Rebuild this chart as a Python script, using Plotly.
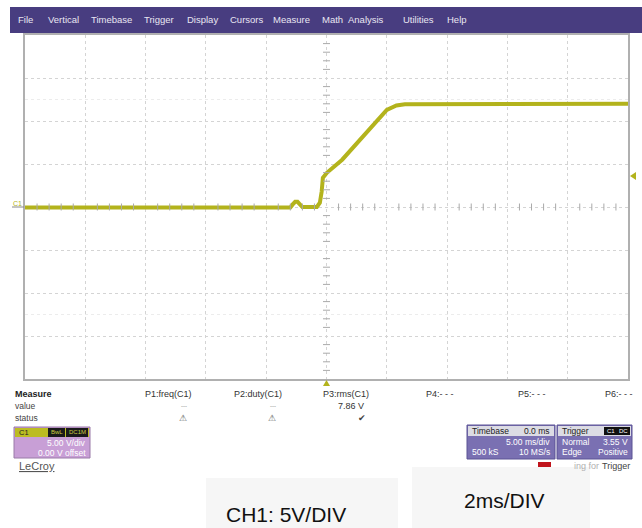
import plotly.graph_objects as go

# C1 waveform (timebase 5 ms/div, 5 V/div, trigger at t=0)
time_ms = [-25, -3.0, -2.8, -2.6, -2.4, -2.2, -2.0, -0.8, -0.55, -0.4, -0.3,
           0.05, 1.3, 5.0, 5.8, 6.5, 25]
volts = [-0.05, -0.05, 0.3, 0.6, 0.6, 0.3, 0.0, 0.0, 0.5, 1.8, 3.4,
         4.0, 5.5, 11.3, 11.8, 11.95, 12.0]

menu_items = ["File", "Vertical", "Timebase", "Trigger", "Display", "Cursors",
              "Measure", "Math", "Analysis", "Utilities", "Help"]
menu_x = [16, 46, 89, 142, 185, 228, 271, 320, 346, 401, 445]

measure_names = ["P1:freq(C1)", "P2:duty(C1)", "P3:rms(C1)", "P4:- - -", "P5:- - -", "P6:- - -"]
measure_x = [143, 232, 321, 424, 516, 603]
measure_values = ["---", "---", "7.86 V"]
trigger_level_v = 3.55

TRACE = "#b3b31c"
FONT = "Liberation Sans, Arial, sans-serif"
W, H = 642, 528
GL, GR, GT, GB = 25, 628, 35, 379


def px(x):
    return (x - GL) / (GR - GL)


def py(y):
    return (GB - y) / (GB - GT)


def text(fig, x, y, s, size=8, color="#333", anchor="left", **kw):
    fig.add_annotation(x=px(x), y=py(y), xref="paper", yref="paper", text=s,
                       showarrow=False, xanchor=anchor, yanchor="middle",
                       font={"family": FONT, "size": size, "color": color}, **kw)


def rect(fig, x0, y0, x1, y1, fill, line=None):
    fig.add_shape(type="rect", xref="paper", yref="paper",
                  x0=px(x0), x1=px(x1), y0=py(y1), y1=py(y0),
                  fillcolor=fill, line={"width": 0 if line is None else 1, "color": line or fill},
                  layer="above")


fig = go.Figure()

fig.add_trace(go.Scatter(x=time_ms, y=volts, mode="lines",
                         line={"color": TRACE, "width": 4}, hoverinfo="skip"))

# small ticks along the centre cross
fig.add_trace(go.Scatter(x=[t for t in range(-25, 26) if t % 5], y=[0] * 40, mode="markers",
                         marker={"symbol": "line-ns", "size": 5, "line": {"color": "#aaa", "width": 1}},
                         hoverinfo="skip"))
fig.add_trace(go.Scatter(x=[0] * 32, y=[v for v in range(-20, 21) if v % 5], mode="markers",
                         marker={"symbol": "line-ew", "size": 5, "line": {"color": "#aaa", "width": 1}},
                         hoverinfo="skip"))

fig.update_layout(
    width=W, height=H, autosize=False,
    margin={"l": GL, "r": W - GR, "t": GT, "b": H - GB, "pad": 0},
    paper_bgcolor="white", plot_bgcolor="white", showlegend=False,
    xaxis={"range": [-25, 25], "dtick": 5, "tick0": 0, "showgrid": True,
           "gridcolor": "#d4d4d4", "griddash": "dot", "zeroline": False,
           "showticklabels": False, "ticks": "", "showline": True,
           "linecolor": "#b0b0b0", "linewidth": 1.5, "mirror": True, "fixedrange": True},
    yaxis={"range": [-20, 20], "dtick": 5, "tick0": 0, "showgrid": True,
           "gridcolor": "#d4d4d4", "griddash": "dot", "zeroline": False,
           "showticklabels": False, "ticks": "", "showline": True,
           "linecolor": "#b0b0b0", "linewidth": 1.5, "mirror": True, "fixedrange": True},
)

# faint extra dotted rows
for yv in (12.5, -12.5):
    fig.add_shape(type="line", xref="paper", yref="y", x0=0, x1=1, y0=yv, y1=yv,
                  line={"color": "#ececec", "width": 1, "dash": "dot"}, layer="below")

# menu bar
rect(fig, 10, 7, 642, 33, "#483d80")
for s, x in zip(menu_items, menu_x):
    text(fig, x, 20, s, size=9.5, color="#e8e6f2")

# channel marker and trigger markers
text(fig, 11, 203, "C1", size=7, color=TRACE)
fig.add_shape(type="line", xref="paper", yref="paper", x0=px(12), x1=px(24), y0=py(207), y1=py(207),
              line={"color": "#888", "width": 1})
fig.add_shape(type="path", xref="paper", yref="paper",
              path=f"M {px(630)},{py(176)} L {px(636)},{py(172)} L {px(636)},{py(180)} Z",
              fillcolor=TRACE, line={"width": 0})
fig.add_shape(type="path", xref="paper", yref="paper",
              path=f"M {px(323)},{py(386)} L {px(330)},{py(386)} L {px(326.5)},{py(380)} Z",
              fillcolor=TRACE, line={"width": 0})

# measure table
text(fig, 13, 394, "<b>Measure</b>", size=9, color="#222")
text(fig, 13, 406, "value", size=8.5, color="#444")
text(fig, 13, 418, "status", size=8.5, color="#444")
for s, x in zip(measure_names, measure_x):
    text(fig, x, 394, s, size=9, color="#333")
text(fig, 184, 406, measure_values[0], size=6, color="#777", anchor="center")
text(fig, 273, 406, measure_values[1], size=6, color="#777", anchor="center")
text(fig, 366, 406, measure_values[2], size=9, color="#333", anchor="right")
text(fig, 183, 418, "⚠", size=9, color="#555", anchor="center")
text(fig, 272, 418, "⚠", size=9, color="#555", anchor="center")
text(fig, 362, 418, "✔", size=9, color="#444", anchor="center")

# C1 box
rect(fig, 14, 427, 90, 458, "#c89fd6", "#9a7aa8")
rect(fig, 15, 428, 89, 437, "#bcbc22")
text(fig, 17, 432, "C1", size=7.5, color="#222")
rect(fig, 48, 428, 65, 437, "#1a1a1a")
text(fig, 56.5, 432, "BwL", size=6, color="#cccc40", anchor="center")
rect(fig, 66, 428, 88, 437, "#1a1a1a")
text(fig, 77, 432, "DC1M", size=6, color="#cccc40", anchor="center")
text(fig, 88, 443, "5.00 V/div", size=8.5, color="white", anchor="right")
text(fig, 88, 453, "0.00 V offset", size=8.5, color="white", anchor="right")
text(fig, 17, 466, "<u>LeCroy</u>", size=11, color="#555")

# timebase & trigger boxes
rect(fig, 467, 425, 555, 459, "#7a70b2", "#5b5394")
rect(fig, 468, 426, 554, 436, "#dcdce4")
text(fig, 470, 431, "Timebase", size=8.5, color="#222")
text(fig, 552, 431, "0.0 ms", size=8.5, color="#222", anchor="right")
text(fig, 552, 442, "5.00 ms/div", size=8.5, color="white", anchor="right")
text(fig, 470, 452, "500 kS", size=8.5, color="white")
text(fig, 552, 452, "10 MS/s", size=8.5, color="white", anchor="right")
rect(fig, 557, 425, 632, 459, "#7a70b2", "#5b5394")
rect(fig, 558, 426, 631, 436, "#dcdce4")
text(fig, 560, 431, "Trigger", size=8.5, color="#222")
rect(fig, 604, 427, 617, 435, "#111")
text(fig, 610.5, 431, "C1", size=6, color="white", anchor="center")
rect(fig, 617, 427, 630, 435, "#111")
text(fig, 623.5, 431, "DC", size=6, color="white", anchor="center")
text(fig, 560, 442, "Normal", size=8.5, color="white")
text(fig, 630, 442, f"{trigger_level_v:.2f} V", size=8.5, color="white", anchor="right")
text(fig, 560, 452, "Edge", size=8.5, color="white")
text(fig, 630, 452, "Positive", size=8.5, color="white", anchor="right")

rect(fig, 538, 462, 551, 468, "#c0141c")
text(fig, 601, 466, "ing for", size=9, color="#b0b0b0", anchor="right")
text(fig, 632, 466, "Trigger", size=9, color="#444", anchor="right")

# caption boxes below the screen
rect(fig, 206, 478, 398, 528, "#f6f6f6")
rect(fig, 412, 467, 590, 528, "#f6f6f6")
text(fig, 286, 514, "CH1: 5V/DIV", size=21, color="#111", anchor="center")
text(fig, 504, 500, "2ms/DIV", size=21, color="#111", anchor="center")

fig.write_html("out.html", config={"displayModeBar": False},
               post_script="document.body.style.margin='0';document.body.style.overflow='hidden';")
